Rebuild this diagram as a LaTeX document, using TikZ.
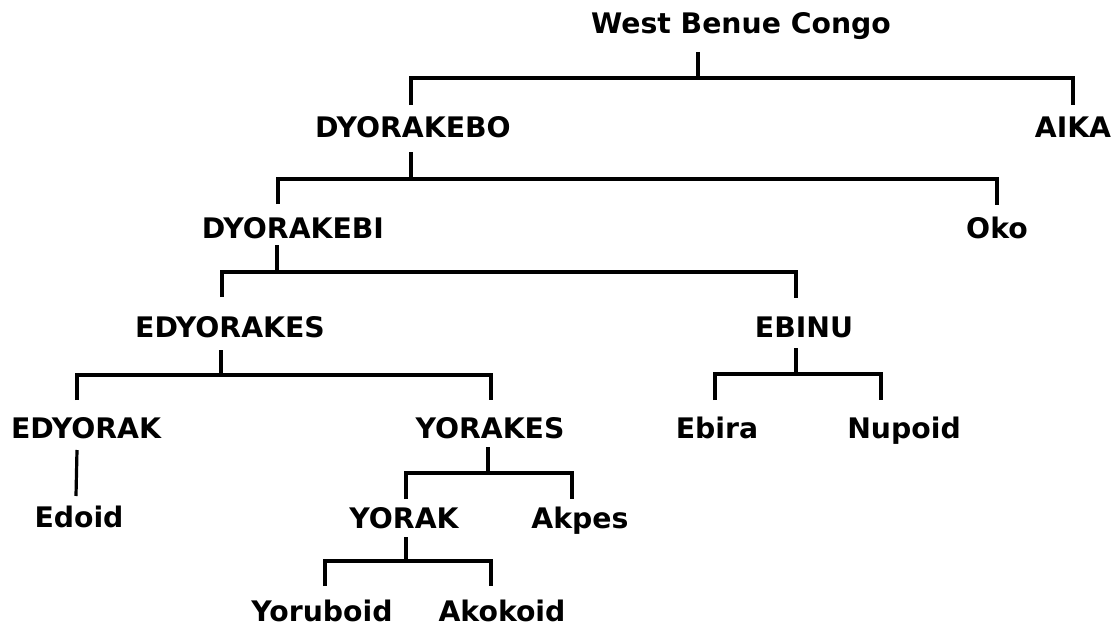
\documentclass[tikz,border=0pt]{standalone}
\usepackage{fontspec}
\setmainfont{DejaVu Sans}
\usepackage{tikz}
\usetikzlibrary{positioning}
\tikzstyle{lang} = [inner sep = 0pt, anchor = base, font = \fontsize{28.3}{34}\selectfont\bfseries]
\tikzstyle{line} = [draw, line width = 3.2pt]

\begin{document}
\begin{tikzpicture}[x = 1pt, y = 1pt]
			\useasboundingbox (0, 0) rectangle (1119, -626);
			\node [lang] (wbc) at (741, -34) {West Benue Congo};
			\node [lang] (dyorakebo) at (413, -137) {DYORAKEBO};
			\node [lang] (aika) at (1073, -137) {AIKA};
			\node [lang] (dyorakebi) at (293, -238) {DYORAKEBI};
			\node [lang] (oko) at (997, -238) {Oko};
			\node [lang] (edyorakes) at (230, -337) {EDYORAKES};
			\node [lang] (ebinu) at (804, -337) {EBINU};
			\node [lang] (edyorak) at (86, -438) {EDYORAK};
			\node [lang] (yorakes) at (490, -438) {YORAKES};
			\node [lang] (ebira) at (717, -438) {Ebira};
			\node [lang] (nupoid) at (904, -438) {Nupoid};
			\node [lang] (edoid) at (79, -527) {Edoid};
			\node [lang] (yorak) at (404, -528) {YORAK};
			\node [lang] (akpes) at (580, -528) {Akpes};
			\node [lang] (yoruboid) at (322, -621) {Yoruboid};
			\node [lang] (akokoid) at (502, -621) {Akokoid};
			
			% junctions under each parent
			\coordinate (wbcj) at ([xshift = -43pt, yshift = -44pt] wbc.base);
			\coordinate (dyorakeboj) at ([xshift = -2pt, yshift = -42pt] dyorakebo.base);
			\coordinate (dyorakebij) at ([xshift = -16pt, yshift = -34pt] dyorakebi.base);
			\coordinate (edyorakesj) at ([xshift = -9pt, yshift = -38pt] edyorakes.base);
			\coordinate (ebinuj) at ([xshift = -8pt, yshift = -37pt] ebinu.base);
			\coordinate (yorakesj) at ([xshift = -2pt, yshift = -35pt] yorakes.base);
			\coordinate (yorakj) at ([xshift = 2pt, yshift = -33pt] yorak.base);
			
			\path [line] ([xshift = -43pt, yshift = -18pt] wbc.base) -- (wbcj);
			\path [line] ([xshift = -2pt, yshift = 32pt] dyorakebo.base) |- (wbcj) -| ([yshift = 32pt] aika.base);
			
			\path [line] ([xshift = -2pt, yshift = -15pt] dyorakebo.base) -- (dyorakeboj);
			\path [line] ([xshift = -15pt, yshift = 34pt] dyorakebi.base) |- (dyorakeboj) -| ([yshift = 33pt] oko.base);
			
			\path [line] ([xshift = -16pt, yshift = -7pt] dyorakebi.base) -- (dyorakebij);
			\path [line] ([xshift = -8pt, yshift = 40pt] edyorakes.base) |- (dyorakebij) -| ([xshift = -8pt, yshift = 39pt] ebinu.base);
			
			\path [line] ([xshift = -9pt, yshift = -13pt] edyorakes.base) -- (edyorakesj);
			\path [line] ([xshift = -9pt, yshift = 38pt] edyorak.base) |- (edyorakesj) -| ([xshift = 1pt, yshift = 38pt] yorakes.base);
			
			\path [line] ([xshift = -8pt, yshift = -11pt] ebinu.base) -- (ebinuj);
			\path [line] ([xshift = -2pt, yshift = 38pt] ebira.base) |- (ebinuj) -| ([xshift = -23pt, yshift = 38pt] nupoid.base);
			
			\path [line] ([xshift = -9pt, yshift = -12pt] edyorak.base) -- ([xshift = -3pt, yshift = 31pt] edoid.base);
			
			\path [line] ([xshift = -2pt, yshift = -9pt] yorakes.base) -- (yorakesj);
			\path [line] ([xshift = 2pt, yshift = 29pt] yorak.base) |- (yorakesj) -| ([xshift = -8pt, yshift = 29pt] akpes.base);
			
			\path [line] ([xshift = 2pt, yshift = -9pt] yorak.base) -- (yorakj);
			\path [line] ([xshift = 3pt, yshift = 35pt] yoruboid.base) |- (yorakj) -| ([xshift = -11pt, yshift = 35pt] akokoid.base);
		\end{tikzpicture}
\end{document}
